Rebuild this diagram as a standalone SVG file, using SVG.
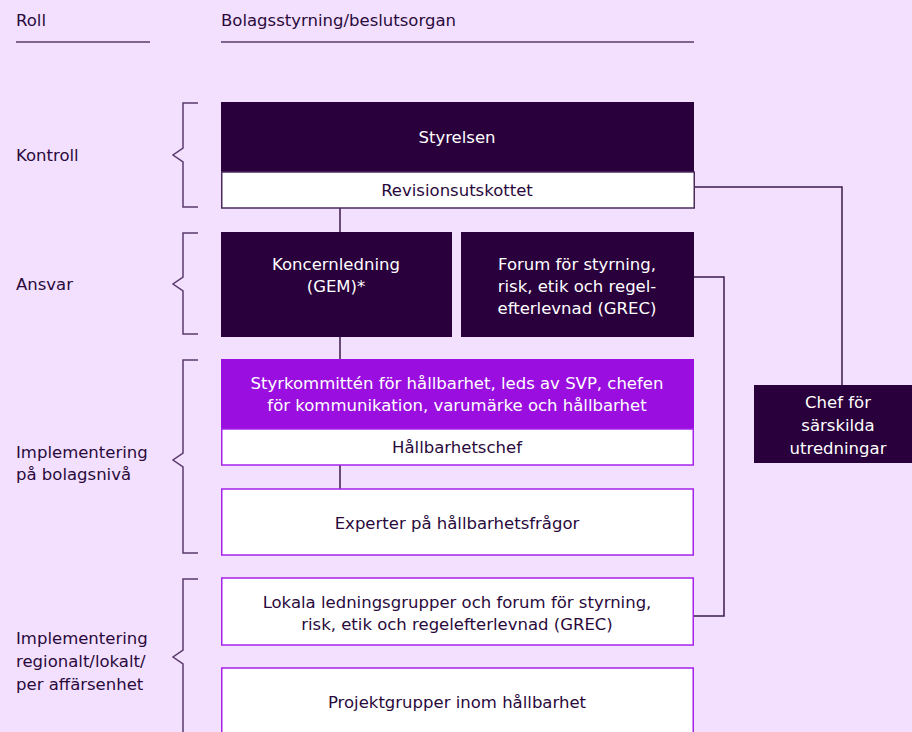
<svg xmlns="http://www.w3.org/2000/svg" width="912" height="732" viewBox="0 0 912 732">
<style>
text{font-family:"DejaVu Sans","Liberation Sans",sans-serif;font-size:16.5px;fill:#2a0a3c}
.c{text-anchor:middle}
.w{fill:#ffffff}
.dark{fill:#2a003c}
.purple{fill:#9b0ee0}
.wbox{fill:#ffffff;stroke:#a522ec;stroke-width:1.5}
.brace{fill:none;stroke:#5a3a6c;stroke-width:1.5}
.conn{fill:none;stroke:#3a1a4c;stroke-width:1.5}
.rule{stroke:#5a3a6c;stroke-width:1.5}
</style>
<rect x="0" y="0" width="912" height="732" fill="#f3e0fe"/>
<g id="header">
<text x="16" y="26">Roll</text>
<text x="221" y="26">Bolagsstyrning/beslutsorgan</text>
<line class="rule" x1="16" y1="42" x2="150" y2="42"/>
<line class="rule" x1="221" y1="42" x2="694" y2="42"/>
</g>
<g id="roles">
<text x="16" y="161">Kontroll</text>
<path class="brace" d="M198,103 H183 V148 L173,155 L183,162 V207 H198"/>
<text x="16" y="290">Ansvar</text>
<path class="brace" d="M198,233 H183 V277 L173,284 L183,291 V334 H198"/>
<text x="16" y="458">Implementering</text>
<text x="16" y="480">på bolagsnivå</text>
<path class="brace" d="M198,360 H183 V453 L173,460 L183,467 V553 H198"/>
<text x="16" y="644">Implementering</text>
<text x="16" y="667">regionalt/lokalt/</text>
<text x="16" y="690">per affärsenhet</text>
<path class="brace" d="M198,579 H183 V650 L173,657 L183,664 V740"/>
</g>
<g id="connectors">
<line class="conn" x1="340" y1="208" x2="340" y2="232"/>
<line class="conn" x1="340" y1="337" x2="340" y2="359"/>
<line class="conn" x1="340" y1="465" x2="340" y2="489"/>
<polyline class="conn" points="694,187 842,187 842,385"/>
<polyline class="conn" points="694,277 724,277 724,616 693,616"/>
</g>
<g id="styrelsen">
<rect class="dark" x="221" y="102" width="473" height="70"/>
<text class="c w" x="457" y="143">Styrelsen</text>
</g>
<g id="revisionsutskottet">
<rect x="221.75" y="172" width="472.5" height="36" fill="#ffffff" stroke="#4a2a5c" stroke-width="1.5"/>
<text class="c" x="457" y="196">Revisionsutskottet</text>
</g>
<g id="koncernledning">
<rect class="dark" x="221" y="232" width="231" height="105"/>
<text class="c w" x="336" y="270">Koncernledning</text>
<text class="c w" x="336" y="292">(GEM)*</text>
</g>
<g id="grec">
<rect class="dark" x="461" y="232" width="233" height="105"/>
<text class="c w" x="577" y="270">Forum för styrning,</text>
<text class="c w" x="577" y="292">risk, etik och regel-</text>
<text class="c w" x="577" y="314">efterlevnad (GREC)</text>
</g>
<g id="styrkommitten">
<rect class="purple" x="221" y="359" width="473" height="70"/>
<text class="c w" x="457" y="389">Styrkommittén för hållbarhet, leds av SVP, chefen</text>
<text class="c w" x="457" y="411">för kommunikation, varumärke och hållbarhet</text>
</g>
<g id="hallbarhetschef">
<rect class="wbox" x="221.75" y="429" width="471.5" height="36"/>
<text class="c" x="457" y="453">Hållbarhetschef</text>
</g>
<g id="experter">
<rect class="wbox" x="221.75" y="489" width="471.5" height="66"/>
<text class="c" x="457" y="529">Experter på hållbarhetsfrågor</text>
</g>
<g id="lokala">
<rect class="wbox" x="221.75" y="578" width="471.5" height="67"/>
<text class="c" x="457" y="608">Lokala ledningsgrupper och forum för styrning,</text>
<text class="c" x="457" y="630">risk, etik och regelefterlevnad (GREC)</text>
</g>
<g id="projektgrupper">
<rect class="wbox" x="221.75" y="668" width="471.5" height="80"/>
<text class="c" x="457" y="708">Projektgrupper inom hållbarhet</text>
</g>
<g id="chef">
<rect class="dark" x="754" y="385" width="160" height="78"/>
<text class="c w" x="838" y="408">Chef för</text>
<text class="c w" x="838" y="431">särskilda</text>
<text class="c w" x="838" y="454">utredningar</text>
</g>
</svg>
